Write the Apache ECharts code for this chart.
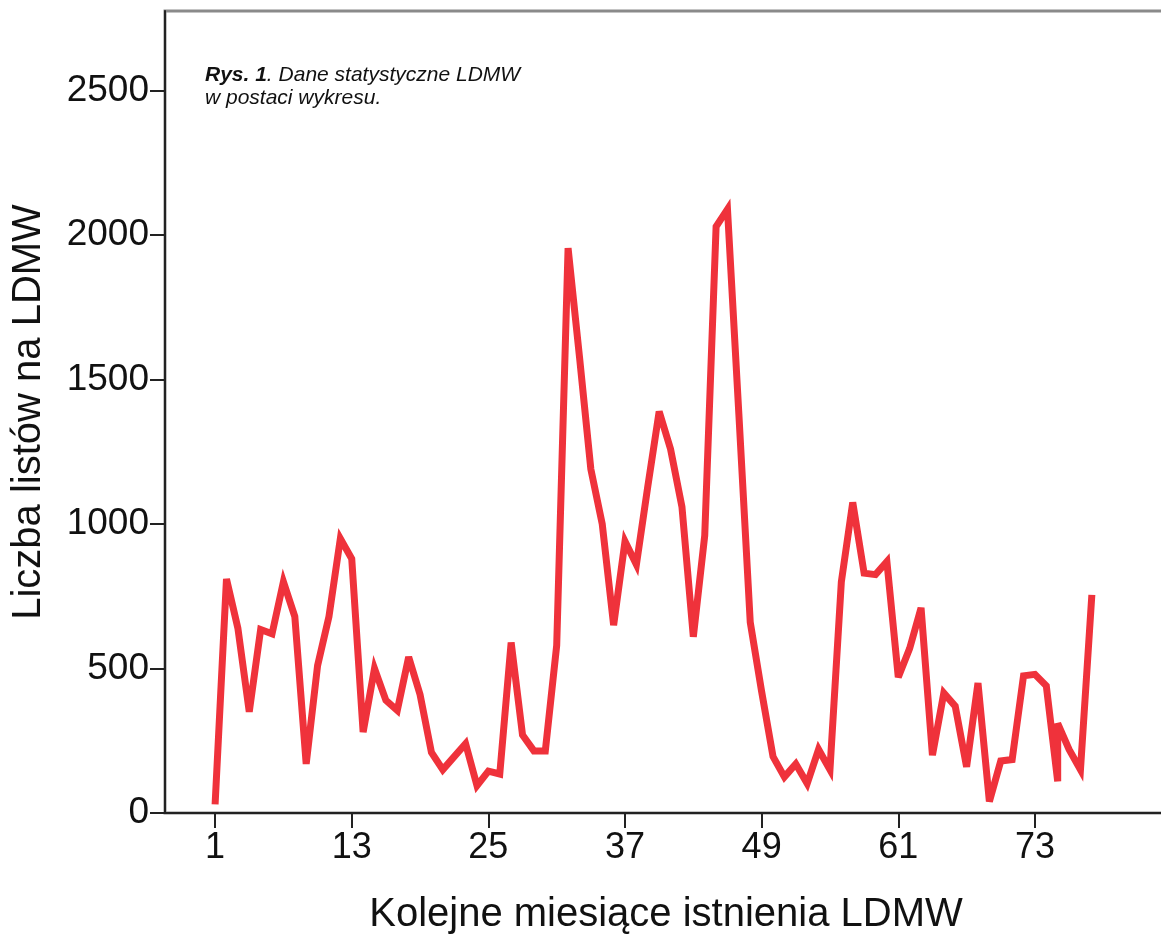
<!DOCTYPE html>
<html>
<head>
<meta charset="utf-8">
<script src="https://cdn.jsdelivr.net/npm/echarts@6/dist/echarts.min.js"></script>
<style>
html,body{margin:0;padding:0;background:#fff;}
#c{width:1161px;height:937px;}
</style>
</head>
<body>
<div id="c"></div>
<script>
// Month index (month 75 appears twice in the source data)
const months = [
  1,2,3,4,5,6,7,8,9,10,11,12,13,14,15,16,17,18,19,20,
  21,22,23,24,25,26,27,28,29,30,31,32,33,34,35,36,37,38,39,40,
  41,42,43,44,45,46,47,48,49,50,51,52,53,54,55,56,57,58,59,60,
  61,62,63,64,65,66,67,68,69,70,71,72,73,74,75,75,76,77,78
];
// Number of letters per month
const letters = [
  30,810,640,350,635,620,800,680,170,510,680,950,880,280,500,390,355,540,410,210,
  150,195,240,95,145,135,590,270,215,215,580,1955,1580,1190,1000,650,940,860,1130,1390,
  1260,1060,610,960,2030,2090,1380,660,420,195,125,170,102,220,150,800,1075,830,825,870,
  470,570,710,200,415,370,160,450,40,180,185,475,480,440,110,310,220,150,755
];
const xTicks = [1,13,25,37,49,61,73];
const yTicks = [0,500,1000,1500,2000,2500];

const xName = 'Kolejne miesiące istnienia LDMW';
const yName = 'Liczba listów na LDMW';

const chart = echarts.init(document.getElementById('c'), null, {renderer:'canvas'});
const font = '"Liberation Sans", Arial, sans-serif';
chart.setOption({
  animation: false,
  backgroundColor: '#ffffff',
  title: {
    left: 205, top: 64, padding: 0,
    text: '{b|Rys. 1}{i|. Dane statystyczne LDMW}\n{i|w postaci wykresu.}',
    textStyle: {
      fontFamily: font, fontWeight: 'normal', fontSize: 21,
      rich: {
        b: {fontFamily: font, fontSize: 21, fontStyle: 'italic', fontWeight: 'bold', color: '#111', lineHeight: 23},
        i: {fontFamily: font, fontSize: 21, fontStyle: 'italic', fontWeight: 'normal', color: '#111', lineHeight: 23}
      }
    }
  },
  grid: {
    left: 165, width: 1002, top: 11, bottom: 124,
    outerBoundsMode: 'none', containLabel: false,
    show: true, borderColor: '#8a8a8a', borderWidth: 3, backgroundColor: 'transparent'
  },
  xAxis: {
    type: 'value', min: -3.4, max: 84.6,
    name: xName, nameLocation: 'middle', nameGap: 82,
    nameTextStyle: {fontFamily: font, fontSize: 40, color: '#111'},
    axisLine: {show: true, onZero: false, lineStyle: {color: '#222', width: 2}},
    axisTick: {show: true, customValues: xTicks, length: 15, lineStyle: {color: '#222', width: 2}},
    axisLabel: {customValues: xTicks, fontFamily: font, fontSize: 36, color: '#111', margin: 17},
    splitLine: {show: false}
  },
  yAxis: {
    type: 'value', min: 0, max: 2776,
    name: yName, nameLocation: 'middle', nameGap: 116,
    nameTextStyle: {fontFamily: font, fontSize: 40, color: '#111'},
    axisLine: {show: true, onZero: false, lineStyle: {color: '#222', width: 2}},
    axisTick: {show: true, customValues: yTicks, length: 15, lineStyle: {color: '#222', width: 2}},
    axisLabel: {customValues: yTicks, formatter: v => String(v), fontFamily: font, fontSize: 37, color: '#111', margin: 16},
    splitLine: {show: false}
  },
  series: [{
    type: 'line',
    data: months.map((m, i) => [m, letters[i]]),
    showSymbol: false,
    symbol: 'none',
    lineStyle: {color: '#EF323B', width: 7, join: 'miter', miterLimit: 4, cap: 'butt'}
  }]
});
</script>
</body>
</html>
